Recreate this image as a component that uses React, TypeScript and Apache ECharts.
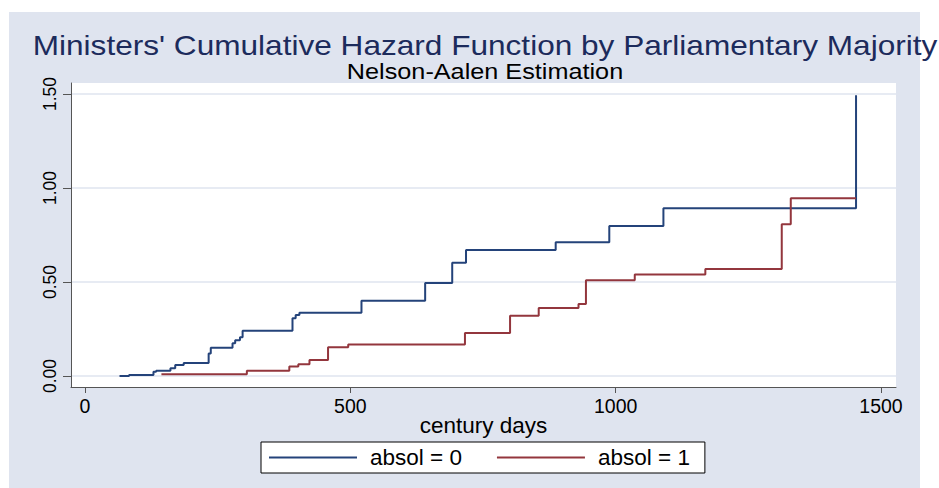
import React, { useEffect, useRef } from "react";
import * as echarts from "echarts";

const titleText = "Ministers' Cumulative Hazard Function by Parliamentary Majority";
const subtitleText = "Nelson-Aalen Estimation";
const xAxisName = "century days";
const seriesNames = ["absol = 0", "absol = 1"];
const xTicks = [0, 500, 1000, 1500];
const yTicks = [0, 0.5, 1, 1.5];

const absol0Time = [65, 83, 129, 134, 161, 170, 186, 233, 237, 278, 283, 292, 297, 391, 397, 404, 521, 641, 692, 718, 887, 988, 1090, 1453];
const absol0Hazard = [0, 0.005, 0.023, 0.028, 0.041, 0.058, 0.069, 0.12, 0.15, 0.174, 0.19, 0.206, 0.241, 0.307, 0.324, 0.337, 0.4, 0.495, 0.603, 0.67, 0.711, 0.798, 0.892, 1.493];
const absol1Time = [144, 305, 385, 402, 423, 458, 496, 716, 801, 855, 930, 944, 1036, 1169, 1313, 1330, 1453];
const absol1Hazard = [0.009, 0.028, 0.05, 0.062, 0.085, 0.153, 0.167, 0.229, 0.321, 0.362, 0.383, 0.509, 0.54, 0.569, 0.807, 0.945, 0.945];

const FONT = '"Liberation Sans", Arial, sans-serif';
const PANEL = "#dfe4ef";
const BLUE = "#24437a";
const RED = "#93363d";

export default function App() {
  const ref = useRef<HTMLDivElement>(null);
  useEffect(() => {
    if (!ref.current) return;
    const chart = echarts.init(ref.current, null, { renderer: "svg" });
    chart.setOption({
      animation: false,
      backgroundColor: "#ffffff",
      graphic: [
        {
          type: "rect",
          z: -10,
          shape: { x: 9, y: 12, width: 911, height: 476 },
          style: { fill: PANEL },
          silent: true,
        },
        {
          type: "text",
          x: 485,
          y: 45,
          scaleX: 1.17,
          style: {
            text: titleText,
            fill: "#1c2b5c",
            fontSize: 27,
            fontFamily: FONT,
            textAlign: "center",
            align: "center",
            textVerticalAlign: "middle",
            verticalAlign: "middle",
          },
        },
        {
          type: "text",
          x: 485,
          y: 72,
          scaleX: 1.18,
          style: {
            text: subtitleText,
            fill: "#000000",
            fontSize: 21.4,
            fontFamily: FONT,
            textAlign: "center",
            align: "center",
            textVerticalAlign: "middle",
            verticalAlign: "middle",
          },
        },
      ],
      grid: {
        left: 71,
        top: 83,
        width: 825,
        height: 304,
        show: true,
        backgroundColor: "#ffffff",
        borderWidth: 0,
      },
      legend: {
        show: true,
        data: seriesNames,
        left: 261,
        top: 442,
        orient: "horizontal",
        icon: "rect",
        itemWidth: 88,
        itemHeight: 2,
        itemGap: 35,
        padding: [4, 15, 4, 8],
        backgroundColor: "#ffffff",
        borderColor: "#000000",
        borderWidth: 1,
        borderRadius: 0,
        textStyle: { fontSize: 22.5, color: "#000", fontFamily: FONT, padding: [0, 0, 0, 8] },
      },
      xAxis: {
        type: "value",
        min: -26.4,
        max: 1528.3,
        name: xAxisName,
        nameLocation: "middle",
        nameGap: 27,
        nameMoveOverlap: false,
        nameTextStyle: { fontSize: 22.5, color: "#000", fontFamily: FONT },
        axisLine: { show: true, onZero: false, lineStyle: { color: "#555", width: 1 } },
        axisTick: { show: true, customValues: xTicks, length: 6, lineStyle: { color: "#555" } },
        axisLabel: {
          customValues: xTicks,
          fontSize: 19.5,
          color: "#000",
          fontFamily: FONT,
          margin: 9,
          formatter: (v: number) => String(v),
        },
        splitLine: { show: false },
      },
      yAxis: {
        type: "value",
        min: -0.0585,
        max: 1.5585,
        axisLine: { show: true, onZero: false, lineStyle: { color: "#555", width: 1 } },
        axisTick: { show: true, customValues: yTicks, length: 8, lineStyle: { color: "#555" } },
        axisLabel: {
          customValues: yTicks,
          rotate: 90,
          fontSize: 17.5,
          color: "#000",
          fontFamily: FONT,
          margin: 12,
          formatter: (v: number) => v.toFixed(2),
        },
        splitLine: { show: true, lineStyle: { color: PANEL, width: 1.5 } },
      },
      series: [
        {
          type: "line",
          name: seriesNames[0],
          step: "end",
          symbol: "none",
          data: absol0Time.map((t, i) => [t, absol0Hazard[i]]),
          lineStyle: { color: BLUE, width: 2 },
          itemStyle: { color: BLUE },
        },
        {
          type: "line",
          name: seriesNames[1],
          step: "end",
          symbol: "none",
          data: absol1Time.map((t, i) => [t, absol1Hazard[i]]),
          lineStyle: { color: RED, width: 2 },
          itemStyle: { color: RED },
        },
      ],
    });
    return () => chart.dispose();
  }, []);
  return (
    <div style={{ position: "fixed", left: 0, top: 0, width: 939, height: 488, background: "#fff" }}>
      <div ref={ref} style={{ width: 939, height: 488 }} />
    </div>
  );
}
